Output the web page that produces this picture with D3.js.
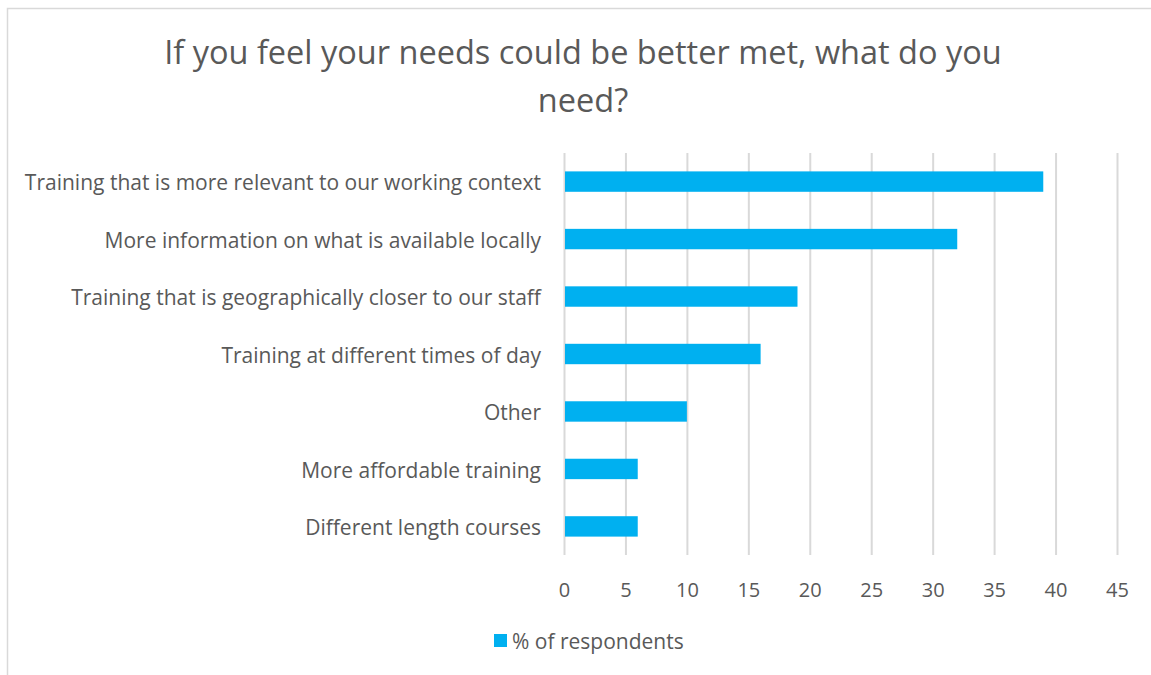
<!DOCTYPE html>
<html>
<head>
<meta charset="utf-8">
<script src="https://cdn.jsdelivr.net/npm/d3@7"></script>
<style>
  html, body { margin: 0; padding: 0; background: #ffffff; }
  svg { display: block; font-family: "Open Sans", "Liberation Sans", sans-serif; }
</style>
</head>
<body>
<svg id="chart" width="1151" height="675"></svg>
<script>
// Survey responses: share of respondents choosing each need
const categories = [
  "Training that is more relevant to our working context",
  "More information on what is available locally",
  "Training that is geographically closer to our staff",
  "Training at different times of day",
  "Other",
  "More affordable training",
  "Different length courses"
];
const values = [39, 32, 19, 16, 10, 6, 6];
const tickValues = [0, 5, 10, 15, 20, 25, 30, 35, 40, 45];
const titleLines = ["If you feel your needs could be better met, what do you", "need?"];
const seriesName = "% of respondents";

const W = 1151, H = 675;
const margin = { left: 564, right: 34, top: 153, bottom: 120 };
const textColor = "#595959";
const barColor = "#00b0f0";
const gridColor = "#d9d9d9";

const svg = d3.select("#chart");

// chart frame
svg.append("rect")
  .attr("x", 7.5).attr("y", 8.5)
  .attr("width", W + 20).attr("height", H + 20)
  .attr("fill", "#fff")
  .attr("stroke", "#d9d9d9").attr("stroke-width", 1.5);

// title
svg.append("g").selectAll("text")
  .data(titleLines)
  .join("text")
  .attr("x", 583)
  .attr("y", (d, i) => 64 + i * 48)
  .attr("text-anchor", "middle")
  .attr("fill", textColor)
  .attr("font-size", 32.5)
  .text(d => d);

const x = d3.scaleLinear().domain([0, 45]).range([margin.left, W - margin.right]);
const y = d3.scaleBand().domain(categories)
  .range([margin.top, H - margin.bottom])
  .paddingInner(0.645).paddingOuter(0.32);

// vertical gridlines
svg.append("g")
  .attr("transform", `translate(0,${H - margin.bottom})`)
  .call(d3.axisBottom(x).tickValues(tickValues).tickSize(-(H - margin.bottom - margin.top)).tickFormat(""))
  .call(g => g.select(".domain").remove())
  .call(g => g.selectAll("line").attr("stroke", gridColor).attr("stroke-width", 2));

// tick labels
svg.append("g")
  .attr("transform", `translate(0,${H - margin.bottom})`)
  .call(d3.axisBottom(x).tickValues(tickValues).tickSize(0).tickPadding(28))
  .call(g => g.select(".domain").remove())
  .call(g => g.selectAll("text").attr("fill", textColor).attr("font-size", 20)
    .attr("font-family", "'Open Sans', sans-serif"));

// bars
svg.append("g").selectAll("rect")
  .data(values)
  .join("rect")
  .attr("x", x(0) + 1)
  .attr("y", (d, i) => y(categories[i]))
  .attr("width", d => x(d) - x(0) - 1)
  .attr("height", y.bandwidth())
  .attr("fill", barColor);

// category labels
svg.append("g")
  .attr("transform", `translate(${margin.left},0)`)
  .call(d3.axisLeft(y).tickSize(0).tickPadding(23))
  .call(g => g.select(".domain").remove())
  .call(g => g.selectAll("text").attr("fill", textColor).attr("font-size", 21)
    .attr("dy", "0.42em")
    .attr("font-family", "'Open Sans', sans-serif"));

// legend
const legend = svg.append("g").attr("transform", "translate(494,634)");
legend.append("rect").attr("width", 13).attr("height", 13).attr("fill", barColor);
legend.append("text").attr("x", 18).attr("y", 15)
  .attr("fill", textColor).attr("font-size", 21).text(seriesName);
</script>
</body>
</html>
